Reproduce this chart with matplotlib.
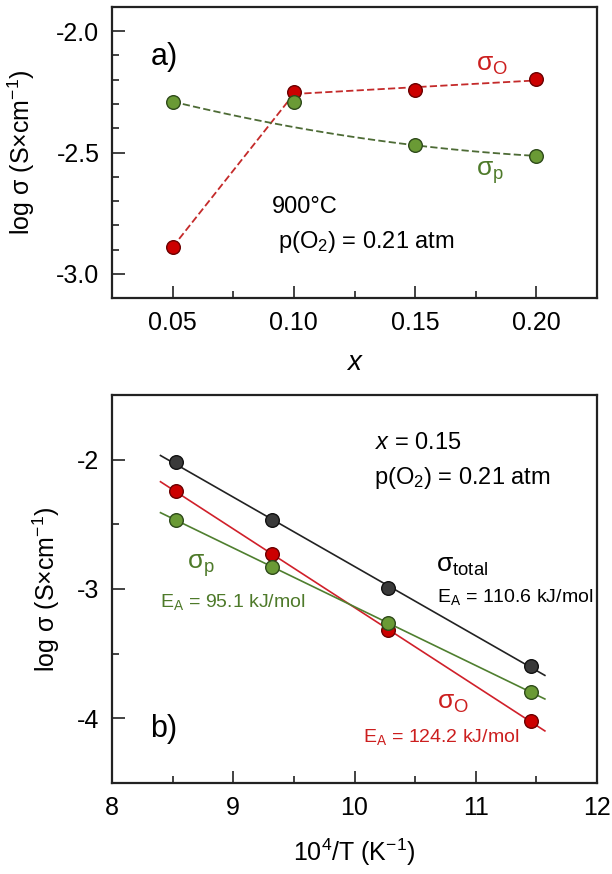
import matplotlib
matplotlib.use('Agg')
import matplotlib.pyplot as plt
import numpy as np
from matplotlib.ticker import MultipleLocator, FormatStrFormatter

# Data: panel a) conductivity vs composition at 900 C
x_comp = [0.05, 0.10, 0.15, 0.20]
log_sig_O_a = [-2.89, -2.252, -2.244, -2.196]
log_sig_p_a = [-2.29, -2.292, -2.470, -2.514]

# Data: panel b) Arrhenius plot for x = 0.15
inv_T = [8.524, 9.318, 10.276, 11.455]
log_sig_total = [-2.021, -2.470, -2.990, -3.594]
log_sig_O_b = [-2.243, -2.729, -3.318, -4.023]
log_sig_p_b = [-2.465, -2.827, -3.266, -3.796]

plt.rcParams.update({
    'font.family': ['Liberation Sans', 'DejaVu Sans'],
    'mathtext.fontset': 'custom',
    'mathtext.rm': 'Liberation Sans',
    'mathtext.it': 'Liberation Sans:italic',
    'axes.unicode_minus': False,
    'font.size': 16,
})

RED = '#cc0000'
RED_EDGE = '#6b0000'
GREEN = '#6a9a35'
GREEN_EDGE = '#2e4a1a'
BLACK = '#3a3a3a'
RED_TXT = '#cc1f1f'
GREEN_TXT = '#4e7a2a'

fig = plt.figure(figsize=(6.12, 8.74), dpi=100)
ax1 = fig.add_axes([0.183, 0.659, 0.7925, 0.333])
ax2 = fig.add_axes([0.183, 0.1041, 0.7925, 0.444])

def style(ax):
    for s in ax.spines.values():
        s.set_linewidth(1.6)
        s.set_color('#222222')
    ax.tick_params(which='both', direction='in', top=False, right=False,
                   labelsize=18, pad=9, width=1.2, color='#222222')
    ax.tick_params(which='major', length=9)
    ax.tick_params(which='minor', length=5)

mk = dict(marker='o', ms=9.8, mew=1.0, linestyle='none', zorder=5)

# ---- panel a ----
style(ax1)
xc = np.array(x_comp)
yo = np.array(log_sig_O_a)
yp = np.array(log_sig_p_a)
# red: jump segment, then linear trend
c_o = np.polyfit(xc[1:], yo[1:], 1)
ax1.plot(xc[:2], [yo[0], np.polyval(c_o, xc[1])],
         color='#c42a2a', lw=1.3, dashes=(4, 1.8))
xx = np.array([xc[1], xc[-1]])
ax1.plot(xx, np.polyval(c_o, xx), color='#c42a2a', lw=1.3, dashes=(4, 1.8))
# green: smooth trend (0.10 point excluded)
sel = [0, 2, 3]
c_p = np.polyfit(xc[sel], yp[sel], 2)
xs = np.linspace(xc[0], xc[-1], 60)
ax1.plot(xs, np.polyval(c_p, xs), color='#4d6b35', lw=1.3, dashes=(4, 1.8))
ax1.plot(xc, yo, mfc=RED, mec=RED_EDGE, **mk)
ax1.plot(xc, yp, mfc=GREEN, mec=GREEN_EDGE, **mk)

ax1.set_xlim(0.025, 0.225)
ax1.set_ylim(-3.1, -1.9)
ax1.xaxis.set_major_locator(MultipleLocator(0.05))
ax1.xaxis.set_minor_locator(MultipleLocator(0.025))
ax1.xaxis.set_major_formatter(FormatStrFormatter('%.2f'))
ax1.yaxis.set_major_locator(MultipleLocator(0.5))
ax1.yaxis.set_minor_locator(MultipleLocator(0.1))
ax1.yaxis.set_major_formatter(FormatStrFormatter('%.1f'))
ax1.set_xlabel('$\\it{x}$', fontsize=20, labelpad=11)
ax1.set_ylabel('log σ (S×cm$^{\\mathrm{-1}}$)', fontsize=18)
ax1.yaxis.set_label_coords(-0.155, 0.5)

ax1.text(0.041, -2.106, 'a)', fontsize=22, va='center', ha='left')
ax1.text(0.175, -2.139, 'σ$_{\\mathrm{O}}$', fontsize=19, color=RED_TXT, va='center')
ax1.text(0.175, -2.585, 'σ$_{\\mathrm{p}}$', fontsize=19, color=GREEN_TXT, va='center')
ax1.text(0.091, -2.725, '900°C', fontsize=17, va='center')
ax1.text(0.0934, -2.869, 'p(O$_{\\mathrm{2}}$) = 0.21 atm', fontsize=17, va='center')

# ---- panel b ----
style(ax2)
xt = np.array(inv_T)
xfit = np.array([8.4, 11.57])
series = [
    (log_sig_total, BLACK, '#111111', '#222222'),
    (log_sig_O_b, RED, RED_EDGE, '#d0202a'),
    (log_sig_p_b, GREEN, GREEN_EDGE, '#4f7f2f'),
]
for ys, fc, ec, lc in series:
    c = np.polyfit(xt, ys, 1)
    ax2.plot(xfit, np.polyval(c, xfit), color=lc, lw=1.2, zorder=3)
for ys, fc, ec, lc in series:
    ax2.plot(xt, ys, mfc=fc, mec=ec, **mk)

ax2.set_xlim(8, 12)
ax2.set_ylim(-4.5, -1.5)
ax2.xaxis.set_major_locator(MultipleLocator(1))
ax2.xaxis.set_minor_locator(MultipleLocator(0.5))
ax2.yaxis.set_major_locator(MultipleLocator(1))
ax2.yaxis.set_minor_locator(MultipleLocator(0.5))
ax2.yaxis.set_major_formatter(FormatStrFormatter('%d'))
ax2.set_xlabel('10$^{\\mathrm{4}}$/T (K$^{\\mathrm{-1}}$)', fontsize=18, labelpad=12)
ax2.set_ylabel('log σ (S×cm$^{\\mathrm{-1}}$)', fontsize=18)
ax2.yaxis.set_label_coords(-0.103, 0.5)

ax2.text(10.17, -1.87, '$\\it{x}$ = 0.15', fontsize=17, va='center')
ax2.text(10.16, -2.14, 'p(O$_{\\mathrm{2}}$) = 0.21 atm', fontsize=17, va='center')
ax2.text(10.674, -2.82, 'σ$_{\\mathrm{total}}$', fontsize=19, va='center')
ax2.text(10.68, -3.06, 'E$_{\\mathrm{A}}$ = 110.6 kJ/mol', fontsize=14, va='center')
ax2.text(8.615, -2.82, 'σ$_{\\mathrm{p}}$', fontsize=19, color=GREEN_TXT, va='center')
ax2.text(8.396, -3.10, 'E$_{\\mathrm{A}}$ = 95.1 kJ/mol', fontsize=14, color=GREEN_TXT, va='center')
ax2.text(10.68, -3.88, 'σ$_{\\mathrm{O}}$', fontsize=19, color=RED_TXT, va='center')
ax2.text(10.07, -4.145, 'E$_{\\mathrm{A}}$ = 124.2 kJ/mol', fontsize=14, color=RED_TXT, va='center')
ax2.text(8.315, -4.08, 'b)', fontsize=22, va='center', ha='left')

fig.savefig('out.png', dpi=100)
